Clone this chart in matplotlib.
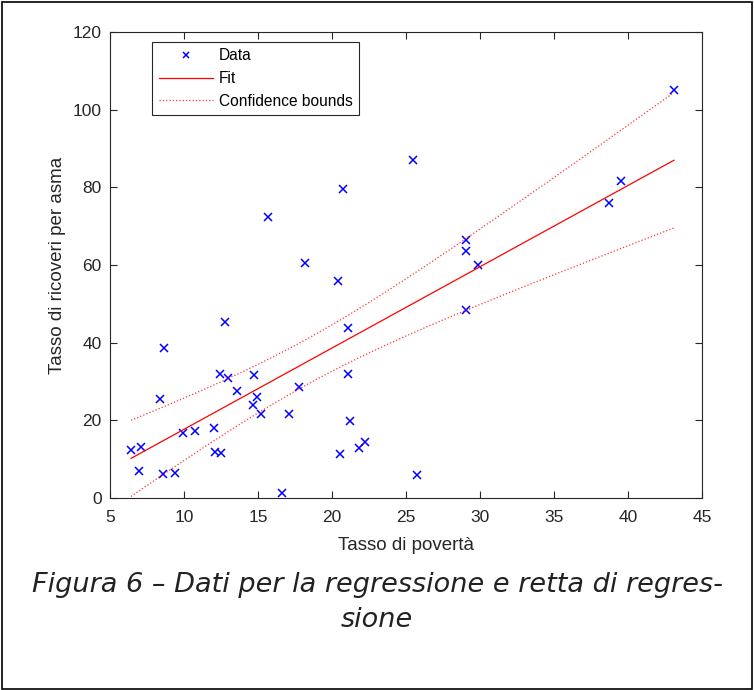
import matplotlib.pyplot as plt
import numpy as np
from matplotlib.patches import Rectangle

# tasso di povertà / tasso di ricoveri per asma
poverty = [6.42, 7.1, 6.98, 8.6, 9.4, 8.4, 8.65, 9.95, 10.74, 12.05,
           12.1, 12.5, 12.4, 12.95, 12.77, 13.56, 14.75, 14.68, 14.9, 15.18,
           16.6, 15.7, 17.1, 17.8, 18.2, 20.4, 20.56, 20.74, 21.1, 21.08,
           21.2, 21.8, 22.25, 25.45, 25.74, 29.03, 29.03, 29.03, 29.85, 38.73,
           39.5, 43.1]
asthma = [12.4, 13.2, 7.0, 6.2, 6.4, 25.5, 38.6, 16.7, 17.3, 18.1,
          11.8, 11.7, 31.9, 31.0, 45.2, 27.5, 31.6, 23.9, 26.0, 21.6,
          1.4, 72.3, 21.7, 28.7, 60.4, 55.9, 11.2, 79.5, 43.7, 31.9,
          19.8, 12.9, 14.4, 87.1, 5.8, 66.3, 63.6, 48.3, 60.0, 75.9,
          81.7, 105.1]

x_ticks = [5, 10, 15, 20, 25, 30, 35, 40, 45]
y_ticks = [0, 20, 40, 60, 80, 100, 120]
legend_labels = ['Data', 'Fit', 'Confidence bounds']
caption = 'Figura 6 – Dati per la regressione e retta di regres-\nsione'

T_95 = 2.021  # t di Student, 40 gradi di libertà


def fit_line(x, y):
    x = np.asarray(x)
    y = np.asarray(y)
    b, a = np.polyfit(x, y, 1)
    xs = np.linspace(x.min(), x.max(), 200)
    yhat = a + b * xs
    res = y - (a + b * x)
    n = len(x)
    s = np.sqrt(np.sum(res ** 2) / (n - 2))
    sxx = np.sum((x - x.mean()) ** 2)
    half = T_95 * s * np.sqrt(1.0 / n + (xs - x.mean()) ** 2 / sxx)
    return xs, yhat, yhat - half, yhat + half


def main():
    plt.rcParams['font.family'] = ['Liberation Sans', 'DejaVu Sans']
    fig = plt.figure(figsize=(7.54, 6.9), dpi=100)
    ax = fig.add_axes([0.1459, 0.2783, 0.7851, 0.6754])

    xs, yhat, lo, hi = fit_line(poverty, asthma)

    ax.plot(poverty, asthma, 'x', color='blue', markersize=6, mew=1.1, label=legend_labels[0])
    ax.plot(xs, yhat, '-', color='red', lw=0.9, label=legend_labels[1])
    ax.plot(xs, lo, ':', color='red', lw=0.9, alpha=0.8, label=legend_labels[2])
    ax.plot(xs, hi, ':', color='red', lw=0.9, alpha=0.8)

    ax.set_xlim(5, 45)
    ax.set_ylim(0, 120)
    ax.set_xticks(x_ticks)
    ax.set_yticks(y_ticks)
    ax.tick_params(direction='in', length=5, width=0.8, top=True, right=True,
                   labelsize=12.5, colors='#262626')
    ax.tick_params(axis='x', pad=9)
    ax.tick_params(axis='y', pad=6)
    for sp in ax.spines.values():
        sp.set_color('#262626')
        sp.set_linewidth(0.8)

    ax.set_xlabel('Tasso di povertà', fontsize=13.5, color='#262626', labelpad=8)
    ax.set_ylabel('Tasso di ricoveri per asma', fontsize=13.5, color='#262626', labelpad=5)

    leg = ax.legend(loc='upper left', bbox_to_anchor=(0.071, 0.979), borderaxespad=0,
                    fontsize=11.2, fancybox=False, framealpha=1, edgecolor='#262626',
                    handlelength=3.5, handletextpad=0.37, borderpad=0.42,
                    labelspacing=0.5, markerscale=0.8)
    leg.get_frame().set_linewidth(0.8)

    fig.text(0.5, 0.1268, caption, ha='center', va='center', fontsize=19.5,
             style='italic', family='DejaVu Sans', color='#222222',
             linespacing=1.47)

    fig.patches.append(Rectangle((0.002, 0.002), 0.995, 0.995, transform=fig.transFigure,
                                 fill=False, edgecolor='black', lw=1.2))

    plt.savefig('out.png', dpi=100)
    return


if __name__ == '__main__':
    main()
